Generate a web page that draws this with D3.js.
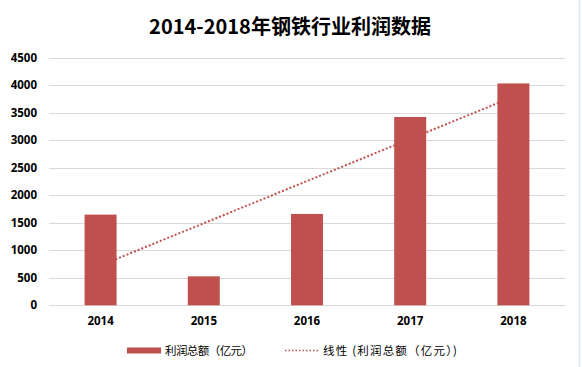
<!DOCTYPE html>
<html>
<head>
<meta charset="utf-8">
<title>2014-2018年钢铁行业利润数据</title>
<style>
  body { margin: 0; background: #fff; }
  text { font-family: "Noto Sans CJK SC", "Noto Sans", sans-serif; }
</style>
</head>
<body>
<script src="https://cdn.jsdelivr.net/npm/d3@7/dist/d3.min.js"></script>
<script>
// 数据
var years = ['2014', '2015', '2016', '2017', '2018'];
var profit = [1647, 526, 1659, 3419, 4029];
var yTicks = [0, 500, 1000, 1500, 2000, 2500, 3000, 3500, 4000, 4500];

var W = 582, H = 367;
var pLeft = 49, pRight = 565, pTop = 57.5, pBottom = 305.3;
var red = '#c0504d';

var svg = d3.select('body').append('svg')
  .attr('width', W)
  .attr('height', H);

svg.append('rect').attr('width', W).attr('height', H).attr('fill', '#fff');
// 右侧边框
svg.append('line')
  .attr('x1', 579.5).attr('x2', 579.5).attr('y1', 0).attr('y2', H)
  .attr('stroke', '#d3ecf1').attr('stroke-width', 1.5);

// 标题
svg.append('text')
  .attr('x', 290).attr('y', 34)
  .attr('text-anchor', 'middle')
  .attr('font-size', 20)
  .attr('font-weight', 'bold')
  .attr('fill', '#000')
  .text('2014-2018年钢铁行业利润数据');

var x = d3.scaleBand().domain(years).range([pLeft, pRight])
  .paddingInner(0.69).paddingOuter(0.345);
var y = d3.scaleLinear().domain([0, 4500]).range([pBottom, pTop]);

// 网格线
svg.append('g').selectAll('line').data(yTicks).enter().append('line')
  .attr('x1', pLeft).attr('x2', pRight)
  .attr('y1', function(d){ return Math.round(y(d)) + 0.5; })
  .attr('y2', function(d){ return Math.round(y(d)) + 0.5; })
  .attr('stroke', '#d9d9d9').attr('stroke-width', 1);

// y轴
var yAxis = svg.append('g')
  .attr('transform', 'translate(' + pLeft + ',0)')
  .call(d3.axisLeft(y).tickValues(yTicks).tickFormat(d3.format('d')).tickSize(0).tickPadding(12));
yAxis.select('.domain').remove();
yAxis.selectAll('text')
  .attr('font-size', 11.5).attr('font-weight', 'bold').attr('fill', '#000')
  .style('font-family', '"Noto Sans", sans-serif');

// x轴
var xAxis = svg.append('g')
  .attr('transform', 'translate(0,' + pBottom + ')')
  .call(d3.axisBottom(x).tickSize(0).tickPadding(12));
xAxis.select('.domain').remove();
xAxis.selectAll('text')
  .attr('font-size', 11.5).attr('font-weight', 'bold').attr('fill', '#000')
  .style('font-family', '"Noto Sans", sans-serif');

// 线性趋势线（最小二乘）
var n = profit.length;
var xs = d3.range(1, n + 1);
var mx = d3.mean(xs), my = d3.mean(profit);
var slope = d3.sum(xs, function(v, i){ return (v - mx) * (profit[i] - my); }) /
            d3.sum(xs, function(v){ return (v - mx) * (v - mx); });
var icpt = my - slope * mx;
var trend = xs.map(function(v){ return slope * v + icpt; });

var cx = function(i){ return x(years[i]) + x.bandwidth() / 2; };
svg.append('line')
  .attr('x1', cx(0)).attr('y1', y(trend[0]))
  .attr('x2', cx(n - 1)).attr('y2', y(trend[n - 1]))
  .attr('stroke', red).attr('stroke-width', 2)
  .attr('stroke-dasharray', '2,2');

// 柱
svg.append('g').selectAll('rect').data(profit).enter().append('rect')
  .attr('x', function(d, i){ return x(years[i]); })
  .attr('y', function(d){ return y(d); })
  .attr('width', x.bandwidth())
  .attr('height', function(d){ return pBottom - y(d); })
  .attr('fill', red);

// 图例
var lg = svg.append('g');
lg.append('rect').attr('x', 127).attr('y', 347.5).attr('width', 34).attr('height', 6).attr('fill', red);
lg.append('text').attr('x', 165).attr('y', 355)
  .attr('font-size', 11.5).attr('fill', '#000')
  .attr('textLength', 88).attr('lengthAdjust', 'spacing')
  .text('利润总额（亿元）');
lg.append('line').attr('x1', 285).attr('x2', 319).attr('y1', 350.5).attr('y2', 350.5)
  .attr('stroke', red).attr('stroke-width', 1.5).attr('stroke-dasharray', '1.5,2');
lg.append('text').attr('x', 323).attr('y', 355)
  .attr('font-size', 11.5).attr('fill', '#000')
  .attr('textLength', 134).attr('lengthAdjust', 'spacing')
  .text('线性 (利润总额（亿元）)');
</script>
</body>
</html>
